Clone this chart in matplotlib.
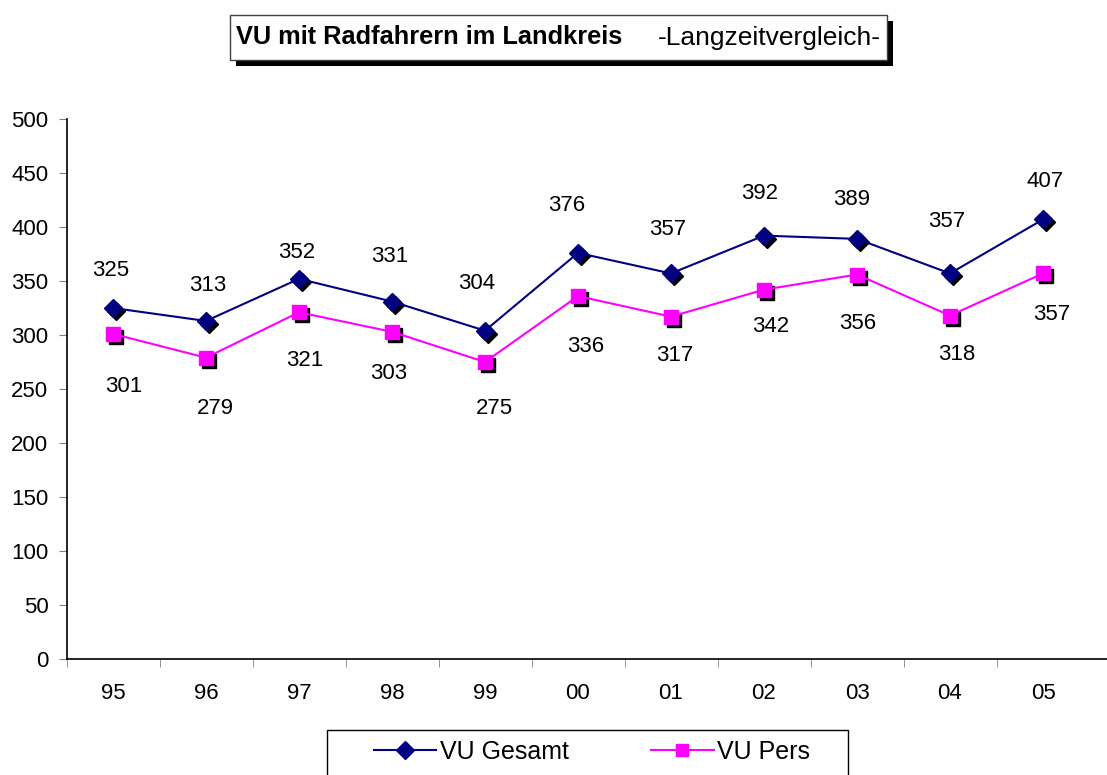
import matplotlib.pyplot as plt
import matplotlib.transforms as mtransforms
from matplotlib.patches import Rectangle
from matplotlib.lines import Line2D

plt.rcParams['font.family'] = ['Liberation Sans', 'DejaVu Sans']

# data
jahre = ['95', '96', '97', '98', '99', '00', '01', '02', '03', '04', '05']
vu_gesamt = [325, 313, 352, 331, 304, 376, 357, 392, 389, 357, 407]
vu_pers = [301, 279, 321, 303, 275, 336, 317, 342, 356, 318, 357]

# label placement (pixel offsets from the marker, as in the original chart)
off_gesamt = [(-2, 38), (2, 35), (-2, 26), (-2, 45), (-8, 47), (-11, 47),
              (-3, 44), (-4, 42), (-5, 39), (-3, 52), (2, 38)]
off_pers = [(11, -53), (9, -51), (6, -48), (-3, -42), (9, -47), (8, -50),
            (4, -39), (7, -37), (1, -49), (7, -39), (9, -41)]

navy = '#000080'
magenta = '#FF00FF'

W, H = 1107, 775
fig = plt.figure(figsize=(W / 100, H / 100), dpi=100)
# plot area: x 66.5..1107 px, y 119..659 px
ax = fig.add_axes([66.5 / W, 1 - 659 / H, (1107 - 66.5) / W, 540 / H])

x = list(range(len(jahre)))

# marker shadows (black, slightly offset)
shadow = mtransforms.offset_copy(ax.transData, fig=fig, x=3, y=-3, units='dots')
ax.plot(x, vu_gesamt, linestyle='none', marker='D', ms=9, color='black',
        transform=shadow, zorder=2)
ax.plot(x, vu_pers, linestyle='none', marker='s', ms=10, color='black',
        transform=shadow, zorder=2)

ax.plot(x, vu_gesamt, color=navy, lw=1.5, marker='D', ms=9, mfc=navy, mec=navy, zorder=3)
ax.plot(x, vu_pers, color=magenta, lw=1.5, marker='s', ms=10, mfc=magenta, mec=magenta, zorder=3)

# data labels
for xi, v, o in zip(x, vu_gesamt, off_gesamt):
    ax.annotate(str(v), (xi, v), xytext=o, textcoords='offset pixels',
                ha='center', va='center', fontsize=16)
for xi, v, o in zip(x, vu_pers, off_pers):
    ax.annotate(str(v), (xi, v), xytext=o, textcoords='offset pixels',
                ha='center', va='center', fontsize=16)

# 93 px per category, axis line runs on to the image edge
ax.set_xlim(-0.5, -0.5 + (1107 - 66.5) / 93)
ax.set_ylim(0, 500)
ax.set_yticks(range(0, 501, 50))
ax.set_xticks(x)
ax.set_xticklabels(jahre)
ax.set_xticks([i - 0.5 for i in x], minor=True)

ax.tick_params(axis='x', which='major', length=0, pad=17, labelsize=16)
ax.tick_params(axis='x', which='minor', length=6, direction='out', color='#808080')
ax.tick_params(axis='y', length=6, direction='out', color='#808080', pad=7, labelsize=16)

for s in ['top', 'right']:
    ax.spines[s].set_visible(False)
ax.spines['left'].set_linewidth(1.2)
ax.spines['bottom'].set_linewidth(1.2)


def fig_rect(x0, y0, x1, y1, **kw):
    # pixel coords from top-left
    r = Rectangle((x0 / W, 1 - y1 / H), (x1 - x0) / W, (y1 - y0) / H,
                  transform=fig.transFigure, **kw)
    fig.patches.append(r)


# title box with shadow
fig_rect(236, 21, 893, 66, facecolor='black', edgecolor='none', zorder=1)
fig_rect(230, 15, 887, 60, facecolor='white', edgecolor='#404040', lw=1, zorder=2)
fig.text(236 / W, 1 - 37.5 / H, 'VU mit Radfahrern im Landkreis', fontsize=18.3,
         fontweight='bold', ha='left', va='center', zorder=3)
fig.text(658 / W, 1 - 37.5 / H, '-Langzeitvergleich-', fontsize=19,
         ha='left', va='center', zorder=3)

# legend box
fig_rect(327, 730, 848, 790, facecolor='white', edgecolor='black', lw=1, zorder=1)
handles = [
    Line2D([], [], color=navy, lw=1.5, marker='D', ms=9, mfc=navy, mec=navy),
    Line2D([], [], color=magenta, lw=1.5, marker='s', ms=9, mfc=magenta, mec=magenta),
]
fig.legend(handles, ['VU Gesamt', 'VU Pers'], loc='center',
           bbox_to_anchor=(592 / W, 1 - 752 / H), ncol=2, frameon=False,
           fontsize=18, handlelength=2.5, handletextpad=0.15, columnspacing=3.3)

fig.savefig('out.png', dpi=100)
